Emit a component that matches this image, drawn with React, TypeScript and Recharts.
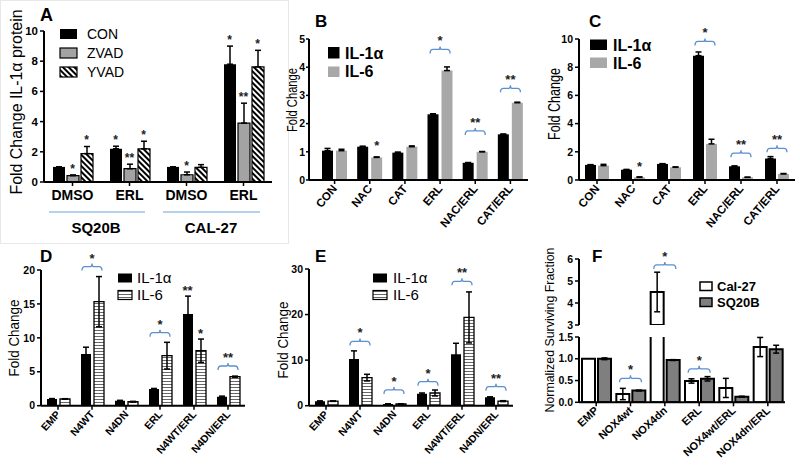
import React from 'react';
import { ComposedChart, Bar, XAxis, YAxis, ErrorBar, ReferenceDot } from 'recharts';

const FONT = '"Liberation Sans", Arial, Helvetica, sans-serif';
const BLUE = '#5a8fd0';
const GRAY_A = '#a3a3a3';
const GRAY_B = '#a8a8a8';
const GRAY_F = '#7f7f7f';

// ---------------- Panel A ----------------
const aIds = ['SQ20B-DMSO', 'SQ20B-ERL', 'CAL27-DMSO', 'CAL27-ERL'];
const aLabels = ['DMSO', 'ERL', 'DMSO', 'ERL'];
const aCon = [1.0, 2.2, 1.0, 7.8];
const aConErr = [0, 0.17, 0, 1.2];
const aZvad = [0.42, 0.88, 0.48, 3.9];
const aZvadErr = [0.05, 0.3, 0.18, 1.32];
const aYvad = [1.88, 2.2, 0.97, 7.62];
const aYvadErr = [0.47, 0.5, 0.18, 1.1];
const aConStars = ['', '*', '', '*'];
const aZvadStars = ['*', '**', '*', '**'];
const aYvadStars = ['*', '*', '', '*'];
const aTicks = [0, 2, 4, 6, 8, 10];

// ---------------- Panel B ----------------
const bCats = ['CON', 'NAC', 'CAT', 'ERL', 'NAC/ERL', 'CAT/ERL'];
const bIl1 = [1.04, 1.18, 0.97, 2.33, 0.61, 1.62];
const bIl1Err = [0.08, 0.02, 0.02, 0.02, 0.01, 0.01];
const bIl6 = [1.04, 0.8, 1.18, 3.88, 1.0, 2.74];
const bIl6Err = [0.05, 0.02, 0.03, 0.13, 0.01, 0.02];
const bIl6Stars = ['', '*', '', '', '', ''];
const bBracket = [null, null, null, 4.63, 1.74, 3.25];
const bBracketStars = ['', '', '', '*', '**', '**'];
const bTicks = [0, 1, 2, 3, 4, 5];

// ---------------- Panel C ----------------
const cCats = ['CON', 'NAC', 'CAT', 'ERL', 'NAC/ERL', 'CAT/ERL'];
const cIl1 = [1.07, 0.73, 1.14, 8.82, 0.97, 1.52];
const cIl1Err = [0.02, 0.02, 0.02, 0.26, 0.03, 0.14];
const cIl6 = [1.02, 0.19, 0.9, 2.56, 0.19, 0.43];
const cIl6Err = [0.09, 0.03, 0.03, 0.33, 0.01, 0.03];
const cIl6Stars = ['', '*', '', '', '', ''];
const cBracket = [null, null, null, 9.83, 1.9, 2.25];
const cBracketStars = ['', '', '', '*', '**', '**'];
const cTicks = [0, 2, 4, 6, 8, 10];

// ---------------- Panel D ----------------
const dCats = ['EMP', 'N4WT', 'N4DN', 'ERL', 'N4WT/ERL', 'N4DN/ERL'];
const dIl1 = [1.0, 7.62, 0.74, 2.46, 13.5, 1.33];
const dIl1Err = [0.05, 1.0, 0.05, 0.08, 2.65, 0.08];
const dIl6 = [1.0, 15.33, 0.59, 7.37, 8.1, 4.28];
const dIl6Err = [0.03, 3.7, 0.05, 1.97, 1.72, 0.08];
const dIl1Stars = ['', '', '', '', '**', ''];
const dIl6Stars = ['', '', '', '', '*', ''];
const dBracket = [null, 20.5, null, 10.76, null, 5.85];
const dBracketStars = ['', '*', '', '*', '', '**'];
const dTicks = [0, 5, 10, 15, 20];

// ---------------- Panel E ----------------
const eCats = ['EMP', 'N4WT', 'N4DN', 'ERL', 'N4WT/ERL', 'N4DN/ERL'];
const eIl1 = [1.0, 10.27, 0.37, 2.64, 11.3, 1.83];
const eIl1Err = [0.05, 1.76, 0.05, 0.15, 2.4, 0.12];
const eIl6 = [1.0, 6.16, 0.37, 2.79, 19.37, 1.0];
const eIl6Err = [0.05, 0.73, 0.05, 0.65, 5.6, 0.1];
const eBracket = [null, 14.1, 3.45, 5.28, 27.3, 4.18];
const eBracketStars = ['', '*', '*', '*', '**', '**'];
const eTicks = [0, 10, 20, 30];

// ---------------- Panel F ----------------
const fCats = ['EMP', 'NOX4wt', 'NOX4dn', 'ERL', 'NOX4wt/ERL', 'NOX4dn/ERL'];
const fCal = [1.0, 0.19, 4.5, 0.49, 0.33, 1.27];
const fCalErr = [0.0, 0.13, 0.9, 0.05, 0.22, 0.22];
const fSq = [1.0, 0.27, 0.97, 0.54, 0.13, 1.22];
const fSqErr = [0.02, 0.01, 0.01, 0.05, 0.01, 0.09];
const fBracket = [null, 0.55, 5.73, 0.77, null, null];
const fBracketStars = ['', '*', '*', '*', '', ''];
const fLowTicks = [0, 0.5, 1.0, 1.5];
const fHighTicks = [3, 4, 5, 6];
const fBreakLow = 1.5;
const fBreakHigh = 3;

type SeriesDef = {
  values: (number | null)[];
  errors: (number | null)[];
  stars?: string[];
  fill: string;
  stroke?: string;
  strokeWidth?: number;
  upOnly?: boolean;
};

type PanelProps = {
  cats: string[];
  labels: string[];
  series: SeriesDef[];
  bracketVals?: (number | null)[];
  bracketStars?: string[];
  domain: [number, number];
  ticks: number[];
  tickFmt?: (v: number) => string;
  axisX: number;
  plotW: number;
  yTop: number;
  yBottom: number;
  padLeft?: number;
  barSize: number;
  barGap: number;
  flatTicks?: boolean;
  tickFont: number;
  tickAngle?: number;
  yTickFont: number;
  yTickSize?: number;
  yTickMargin?: number;
  starFont: number;
  starGap: number;
  bracketHalf: number;
  hideX?: boolean;
  mTop?: number;
  mBottom?: number;
  xH?: number;
};

function Panel(p: PanelProps) {
  const n = p.series.length;
  const rows = p.cats.map((c, i) => {
    const r: any = { cat: c };
    p.series.forEach((s, k) => {
      const v = s.values[i];
      const e = s.errors[i];
      r['v' + k] = v;
      r['e' + k] = v == null || e == null ? null : s.upOnly ? [0, e] : e;
    });
    return r;
  });
  const mTop = p.mTop ?? 30;
  const mBottom = p.mBottom ?? 0;
  const xH = p.hideX ? 0 : p.xH ?? 60;
  const YW = 40;
  const mR = 8;
  const plotH = p.yBottom - p.yTop;
  const W = YW + p.plotW + mR;
  const H = mTop + plotH + xH + mBottom;
  const step = p.barSize + p.barGap;

  const dots: React.ReactNode[] = [];
  p.series.forEach((s, k) => {
    if (!s.stars) return;
    const off = (k - (n - 1) / 2) * step;
    p.cats.forEach((c, i) => {
      const st = s.stars![i];
      const v = s.values[i];
      if (!st || v == null) return;
      const top = v + (s.errors[i] || 0);
      dots.push(
        <ReferenceDot
          key={`s${k}-${i}`}
          x={c}
          y={top}
          ifOverflow="visible"
          shape={(d: any) => (
            <text
              x={d.cx + off}
              y={d.cy - p.starGap + 0.58 * p.starFont}
              textAnchor="middle"
              fontSize={p.starFont}
              fontWeight="bold"
              fontFamily={FONT}
              fill="#222"
            >
              {st}
            </text>
          )}
        />
      );
    });
  });
  if (p.bracketVals) {
    p.cats.forEach((c, i) => {
      const bv = p.bracketVals![i];
      if (bv == null) return;
      const st = p.bracketStars ? p.bracketStars[i] : '';
      const hw = p.bracketHalf;
      dots.push(
        <ReferenceDot
          key={`b${i}`}
          x={c}
          y={bv}
          ifOverflow="visible"
          shape={(d: any) => (
            <g>
              <path
                d={`M${d.cx - hw},${d.cy + 4} Q${d.cx - hw},${d.cy} ${d.cx - hw + 3},${d.cy} L${d.cx - 1.5},${d.cy} Q${d.cx},${d.cy} ${d.cx},${d.cy - 3} Q${d.cx},${d.cy} ${d.cx + 1.5},${d.cy} L${d.cx + hw - 3},${d.cy} Q${d.cx + hw},${d.cy} ${d.cx + hw},${d.cy + 4}`}
                stroke={BLUE}
                strokeWidth={1.3}
                fill="none"
              />
              <text
                x={d.cx}
                y={d.cy - 4}
                textAnchor="middle"
                fontSize={p.starFont}
                fontWeight="bold"
                fontFamily={FONT}
                fill="#222"
              >
                {st}
              </text>
            </g>
          )}
        />
      );
    });
  }

  const renderTick = (t: any) => {
    const idx = p.cats.indexOf(t.payload.value);
    const label = p.labels[idx];
    if (p.flatTicks) {
      return (
        <text x={t.x} y={t.y + 12} textAnchor="middle" fontSize={p.tickFont} fontWeight="bold" fontFamily={FONT} fill="#000">
          {label}
        </text>
      );
    }
    const ax = t.x + 3;
    const ay = t.y + 3;
    return (
      <text
        x={ax}
        y={ay}
        transform={`rotate(${p.tickAngle ?? -45}, ${ax}, ${ay})`}
        textAnchor="end"
        fontSize={p.tickFont}
        fontWeight="bold"
        fontFamily={FONT}
        fill="#000"
      >
        {label}
      </text>
    );
  };

  return (
    <div style={{ position: 'absolute', left: p.axisX - YW, top: p.yTop - mTop, width: W, height: H }}>
      <ComposedChart
        width={W}
        height={H}
        data={rows}
        margin={{ top: mTop, right: mR, bottom: mBottom, left: 0 }}
        barSize={p.barSize}
        barGap={p.barGap}
      >
        <XAxis
          dataKey="cat"
          type="category"
          hide={p.hideX}
          height={xH}
          interval={0}
          padding={{ left: p.padLeft ?? 0, right: 0 }}
          tickSize={4}
          tickMargin={2}
          axisLine={{ stroke: '#000', strokeWidth: 2 }}
          tickLine={{ stroke: '#000', strokeWidth: 1.5 }}
          tick={renderTick}
        />
        <YAxis
          type="number"
          width={YW}
          domain={p.domain}
          ticks={p.ticks}
          interval={0}
          allowDataOverflow
          tickFormatter={p.tickFmt}
          tickSize={p.yTickSize ?? 4}
          tickMargin={p.yTickMargin ?? 2}
          axisLine={{ stroke: '#000', strokeWidth: 2 }}
          tickLine={{ stroke: '#000', strokeWidth: 1.5 }}
          tick={{ fontSize: p.yTickFont, fontWeight: 'bold', fill: '#000', fontFamily: FONT }}
        />
        {p.series.map((s, k) => (
          <Bar
            key={k}
            dataKey={'v' + k}
            fill={s.fill}
            stroke={s.stroke}
            strokeWidth={s.strokeWidth}
            isAnimationActive={false}
          >
            <ErrorBar dataKey={'e' + k} width={3} stroke="#000" strokeWidth={1.5} direction="y" />
          </Bar>
        ))}
        {dots}
      </ComposedChart>
    </div>
  );
}

const T = (props: any) => <text fontFamily={FONT} fill="#000" {...props} />;

function VTitle({ x, y, len, size, bold, children }: any) {
  return (
    <text
      transform={`translate(${x},${y}) rotate(-90)`}
      textAnchor="middle"
      fontSize={size}
      fontWeight={bold ? 'bold' : 'normal'}
      fontFamily={FONT}
      fill="#000"
      textLength={len}
      lengthAdjust="spacingAndGlyphs"
    >
      {children}
    </text>
  );
}

function Overlay() {
  return (
    <svg width={800} height={471} style={{ position: 'absolute', left: 0, top: 0, pointerEvents: 'none' }}>
      <defs>
        <pattern id="diag" patternUnits="userSpaceOnUse" width="4" height="4" patternTransform="rotate(-45)">
          <rect width="4" height="4" fill="#fff" />
          <rect width="2" height="4" fill="#000" />
        </pattern>
        <pattern id="hstripe" patternUnits="userSpaceOnUse" width="4" height="3">
          <rect width="4" height="3" fill="#fff" />
          <rect width="4" height="1" fill="#666" />
        </pattern>
      </defs>
      {/* Panel A frame */}
      <rect x={0.5} y={0.5} width={288} height={243} fill="none" stroke="#e8e8e8" />
      <T x={40} y={21} fontSize={18} fontWeight="bold">A</T>
      <VTitle x={21.5} y={102} len={185} size={16}>Fold Change IL-1α protein</VTitle>
      <rect x={60} y={29} width={17} height={10} fill="#000" />
      <rect x={60} y={48} width={17} height={10} fill={GRAY_A} stroke="#000" strokeWidth={1.2} />
      <rect x={60} y={67} width={17} height={10} fill="url(#diag)" stroke="#000" strokeWidth={1.2} />
      <T x={87} y={39} fontSize={14}>CON</T>
      <T x={87} y={58} fontSize={14}>ZVAD</T>
      <T x={87} y={77} fontSize={14}>YVAD</T>
      <line x1={49} x2={145} y1={212} y2={212} stroke="#9dc3e6" strokeWidth={1.5} />
      <line x1={163} x2={260} y1={212} y2={212} stroke="#9dc3e6" strokeWidth={1.5} />
      <T x={96} y={233} fontSize={15} fontWeight="bold" textAnchor="middle">SQ20B</T>
      <T x={211} y={233} fontSize={15} fontWeight="bold" textAnchor="middle">CAL-27</T>

      {/* Panel B */}
      <T x={315} y={27} fontSize={17} fontWeight="bold">B</T>
      <VTitle x={297} y={100} len={64} size={14}>Fold Change</VTitle>
      <rect x={328} y={47} width={11.5} height={11.5} fill="#000" />
      <rect x={328} y={66.5} width={11.5} height={10.5} fill={GRAY_B} />
      <T x={345} y={58.5} fontSize={16} fontWeight="bold">IL-1α</T>
      <T x={345} y={76.5} fontSize={16} fontWeight="bold">IL-6</T>

      {/* Panel C */}
      <T x={589} y={27} fontSize={17} fontWeight="bold">C</T>
      <VTitle x={560} y={104} len={72} size={16}>Fold Change</VTitle>
      <rect x={590} y={39.5} width={17} height={10.5} fill="#000" />
      <rect x={590} y={57.5} width={17} height={10.5} fill={GRAY_B} />
      <T x={613} y={51} fontSize={16} fontWeight="bold">IL-1α</T>
      <T x={613} y={69} fontSize={16} fontWeight="bold">IL-6</T>

      {/* Panel D */}
      <T x={40} y={262} fontSize={17} fontWeight="bold">D</T>
      <VTitle x={19} y={338} len={77} size={15}>Fold Change</VTitle>
      <rect x={118} y={273.5} width={14} height={9} fill="#000" />
      <rect x={118} y={290.5} width={14} height={9} fill="url(#hstripe)" stroke="#000" strokeWidth={1.2} />
      <T x={137} y={282.5} fontSize={15}>IL-1α</T>
      <T x={137} y={300} fontSize={15}>IL-6</T>

      {/* Panel E */}
      <T x={315} y={262} fontSize={17} fontWeight="bold">E</T>
      <VTitle x={288} y={340} len={77} size={15}>Fold Change</VTitle>
      <rect x={373} y={273.5} width={14} height={9} fill="#000" />
      <rect x={373} y={290.5} width={14} height={9} fill="url(#hstripe)" stroke="#000" strokeWidth={1.2} />
      <T x={393} y={282.5} fontSize={15}>IL-1α</T>
      <T x={393} y={300} fontSize={15}>IL-6</T>

      {/* Panel F */}
      <T x={592} y={262} fontSize={17} fontWeight="bold">F</T>
      <VTitle x={554} y={330} len={165} size={13}>Normalized Surviving Fraction</VTitle>
      <rect x={700} y={282} width={12} height={8.5} fill="#fff" stroke="#000" strokeWidth={1.5} />
      <rect x={700} y={298} width={12} height={8.5} fill={GRAY_F} stroke="#000" strokeWidth={1.5} />
      <T x={717} y={291} fontSize={13} fontWeight="bold">Cal-27</T>
      <T x={717} y={307} fontSize={13} fontWeight="bold">SQ20B</T>
    </svg>
  );
}

export default function App() {
  const fCalHigh = fCal.map((v) => (v >= fBreakHigh ? v : null));
  const fCalErrHigh = fCal.map((v, i) => (v >= fBreakHigh ? fCalErr[i] : null));
  const fSqHigh = fSq.map((v) => (v >= fBreakHigh ? v : null));
  const fSqErrHigh = fSq.map((v, i) => (v >= fBreakHigh ? fSqErr[i] : null));
  const fBrLow = fBracket.map((v) => (v != null && v <= fBreakLow ? v : null));
  const fBrHigh = fBracket.map((v) => (v != null && v >= fBreakHigh ? v : null));

  return (
    <div style={{ position: 'absolute', left: 0, top: 0, width: 800, height: 471, overflow: 'hidden', background: '#fff' }}>
      {/* A */}
      <Panel
        cats={aIds}
        labels={aLabels}
        series={[
          { values: aCon, errors: aConErr, stars: aConStars, fill: '#000', upOnly: true },
          { values: aZvad, errors: aZvadErr, stars: aZvadStars, fill: GRAY_A, stroke: '#000', strokeWidth: 1.2, upOnly: true },
          { values: aYvad, errors: aYvadErr, stars: aYvadStars, fill: 'url(#diag)', stroke: '#000', strokeWidth: 1.2, upOnly: true },
        ]}
        domain={[0, 10]}
        ticks={aTicks}
        axisX={44}
        plotW={228}
        yTop={31}
        yBottom={182}
        barSize={12}
        barGap={2}
        flatTicks
        tickFont={14}
        yTickFont={11.5}
        starFont={12}
        starGap={9}
        bracketHalf={10}
        mTop={20}
        xH={22}
      />
      {/* B */}
      <Panel
        cats={bCats}
        labels={bCats}
        series={[
          { values: bIl1, errors: bIl1Err, fill: '#000', upOnly: true },
          { values: bIl6, errors: bIl6Err, stars: bIl6Stars, fill: GRAY_B, upOnly: true },
        ]}
        bracketVals={bBracket}
        bracketStars={bBracketStars}
        domain={[0, 5]}
        ticks={bTicks}
        axisX={309}
        plotW={219}
        padLeft={8}
        yTop={39}
        yBottom={180}
        barSize={11}
        barGap={3}
        tickFont={11.5}
        tickAngle={-50}
        yTickFont={10.5}
        yTickSize={3}
        yTickMargin={1}
        starFont={13}
        starGap={14}
        bracketHalf={10}
        xH={60}
      />
      {/* C */}
      <Panel
        cats={cCats}
        labels={cCats}
        series={[
          { values: cIl1, errors: cIl1Err, fill: '#000', upOnly: true },
          { values: cIl6, errors: cIl6Err, stars: cIl6Stars, fill: GRAY_B, upOnly: true },
        ]}
        bracketVals={cBracket}
        bracketStars={cBracketStars}
        domain={[0, 10]}
        ticks={cTicks}
        axisX={579}
        plotW={216}
        yTop={39}
        yBottom={180}
        barSize={11}
        barGap={2}
        tickFont={11.5}
        tickAngle={-50}
        yTickFont={10.5}
        starFont={13}
        starGap={13}
        bracketHalf={10}
        xH={60}
      />
      {/* D */}
      <Panel
        cats={dCats}
        labels={dCats}
        series={[
          { values: dIl1, errors: dIl1Err, stars: dIl1Stars, fill: '#000' },
          { values: dIl6, errors: dIl6Err, stars: dIl6Stars, fill: 'url(#hstripe)', stroke: '#000', strokeWidth: 1.3 },
        ]}
        bracketVals={dBracket}
        bracketStars={dBracketStars}
        domain={[0, 20]}
        ticks={dTicks}
        axisX={41}
        plotW={204}
        yTop={270}
        yBottom={405.7}
        barSize={10}
        barGap={3}
        tickFont={10.5}
        tickAngle={-48}
        yTickFont={10.5}
        starFont={13}
        starGap={9}
        bracketHalf={10}
        xH={62}
      />
      {/* E */}
      <Panel
        cats={eCats}
        labels={eCats}
        series={[
          { values: eIl1, errors: eIl1Err, fill: '#000' },
          { values: eIl6, errors: eIl6Err, fill: 'url(#hstripe)', stroke: '#000', strokeWidth: 1.3 },
        ]}
        bracketVals={eBracket}
        bracketStars={eBracketStars}
        domain={[0, 30]}
        ticks={eTicks}
        axisX={309}
        plotW={204}
        yTop={269}
        yBottom={405.7}
        barSize={10}
        barGap={3}
        tickFont={10.5}
        tickAngle={-48}
        yTickFont={10.5}
        starFont={13}
        starGap={9}
        bracketHalf={10}
        xH={62}
      />
      {/* F upper segment */}
      <Panel
        cats={fCats}
        labels={fCats}
        series={[
          { values: fCalHigh, errors: fCalErrHigh, fill: '#fff', stroke: '#000', strokeWidth: 2 },
          { values: fSqHigh, errors: fSqErrHigh, fill: GRAY_F, stroke: '#000', strokeWidth: 2 },
        ]}
        bracketVals={fBrHigh}
        bracketStars={fBracketStars}
        domain={[3, 6]}
        ticks={fHighTicks}
        axisX={579}
        plotW={206}
        yTop={259}
        yBottom={325}
        barSize={13}
        barGap={3}
        hideX
        tickFont={10.5}
        yTickFont={10.5}
        starFont={13}
        starGap={9}
        bracketHalf={11}
        mBottom={8}
      />
      {/* F lower segment */}
      <Panel
        cats={fCats}
        labels={fCats}
        series={[
          { values: fCal, errors: fCalErr, fill: '#fff', stroke: '#000', strokeWidth: 2 },
          { values: fSq, errors: fSqErr, fill: GRAY_F, stroke: '#000', strokeWidth: 2 },
        ]}
        bracketVals={fBrLow}
        bracketStars={fBracketStars}
        domain={[0, 1.5]}
        ticks={fLowTicks}
        tickFmt={(v: number) => v.toFixed(1)}
        axisX={579}
        plotW={206}
        yTop={336.7}
        yBottom={402}
        barSize={13}
        barGap={3}
        tickFont={11}
        tickAngle={-43}
        yTickFont={10.5}
        starFont={13}
        starGap={9}
        bracketHalf={11}
        mTop={10}
        xH={66}
      />
      <Overlay />
    </div>
  );
}
